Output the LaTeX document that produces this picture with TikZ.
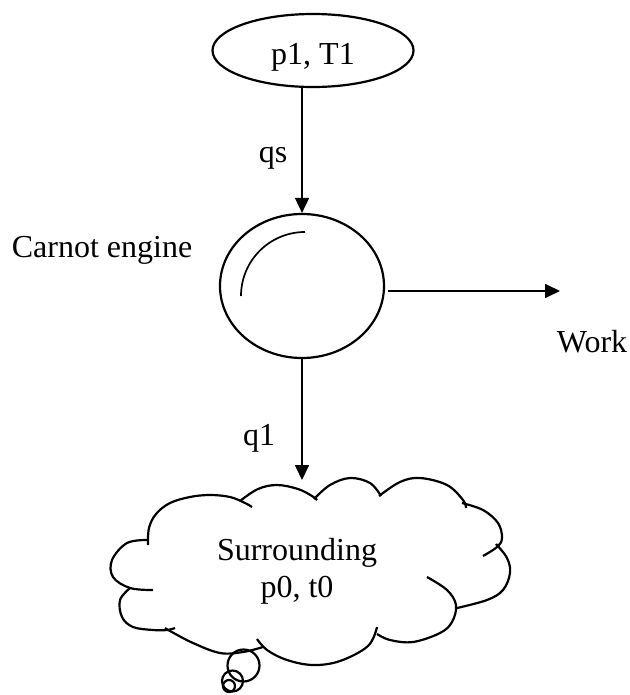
\documentclass[tikz,border=0pt]{standalone}
\usepackage{fontspec}
\setmainfont{Liberation Serif}
\usetikzlibrary{arrows.meta,shapes.geometric}

\tikzset{
  flow/.style={line width=1.7pt, -{Triangle[length=15pt,width=14pt]}},
  outline/.style={draw, line width=2.2pt, inner sep=0pt},
  lbl/.style={anchor=base, inner sep=0pt, font=\fontsize{32}{38}\selectfont},
  lobe/.style={line width=2.2pt, smooth, tension=0.6},
}

\begin{document}
\begin{tikzpicture}[x=1pt, y=-1pt]
  \useasboundingbox (0,0) rectangle (629,695);

  % hot reservoir
  \node[outline, ellipse, minimum width=201pt, minimum height=73pt] (top) at (313,50.5) {};
  \node[lbl] (ptlabel) at (313,65) {p1, T1};

  % engine
  \node[outline, ellipse, minimum width=164pt, minimum height=144pt] (engine) at (302,286) {};
  \draw[line width=1.7pt] (305,232) arc[start angle=270, end angle=180, radius=64];
  \node[lbl] (carnot) at (102,257) {Carnot engine};

  % heat in
  \draw[flow] (top.south -| engine.north) -- (engine.north);
  \node[lbl] (qs) at (273,163) {qs};

  % work out
  \coordinate (workend) at (560,291);
  \draw[flow, shorten <=3pt] (engine.east |- workend) -- (workend);
  \node[lbl] (work) at (592,352) {Work};

  % heat rejected
  \coordinate (cloudtop) at (302,480);
  \draw[flow] (engine.south) -- (cloudtop);
  \node[lbl] (qone) at (259,445) {q1};

  % surroundings cloud, lobe by lobe
  \draw[lobe] plot coordinates {(148,545) (149,528) (156,514) (170,503) (190,497) (210,495) (230,497) (245,503) (252,507)};
  \draw[lobe] plot coordinates {(240,501) (258,489) (277,485) (298,489) (312,496) (317,500)};
  \draw[lobe] plot coordinates {(314,499) (330,485) (350,478) (370,483) (381,496)};
  \draw[lobe] plot coordinates {(379,496) (400,482) (420,478) (447,485) (463,500) (466,508)};
  \draw[lobe] plot coordinates {(462,503) (483,510) (498,523) (502,538) (497,547) (483,556)};
  \draw[lobe] plot coordinates {(496,544) (507,558) (510,573) (503,590) (487,600) (457,608)};
  \draw[lobe] plot coordinates {(427,577) (447,590) (456,605) (452,622) (440,633) (413,642) (390,640) (377,634)};
  \draw[lobe] plot coordinates {(377,627) (368,646) (340,661) (313,665) (287,660) (267,650) (257,639)};
  \draw[lobe] plot coordinates {(263,647) (243,652) (220,653) (193,643) (170,631) (165,628)};
  \draw[lobe] plot coordinates {(130,588) (120,600) (122,617) (133,627) (153,630) (167,630) (175,628)};
  \draw[lobe] plot coordinates {(148,540) (127,543) (112,560) (113,577) (130,588) (153,590)};

  % thought bubbles under the cloud
  \draw[line width=2.2pt] (243.5,665.5) circle[radius=16];
  \draw[line width=2.2pt] (232.5,681) circle[radius=10.5];
  \draw[line width=2.2pt] (229,686) circle[radius=6];

  \node[lbl] (surr) at (297,560) {Surrounding};
  \node[lbl] (pzero) at (297,597) {p0, t0};
\end{tikzpicture}
\end{document}
